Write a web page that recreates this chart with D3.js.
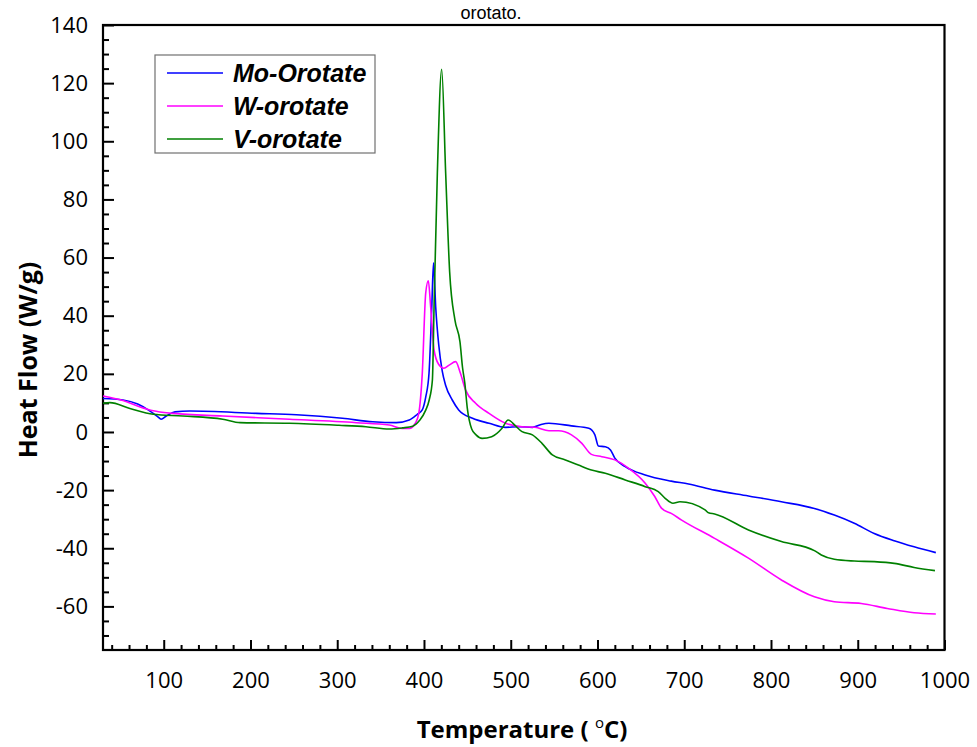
<!DOCTYPE html>
<html>
<head>
<meta charset="utf-8">
<script src="https://cdn.jsdelivr.net/npm/d3@7"></script>
<style>
  html, body { margin: 0; padding: 0; background: #fff; }
  svg { display: block; }
</style>
</head>
<body>
<div id="chart"></div>
<script>
'use strict';

// series: [temperature (°C), heat flow (W/g)]
const moOrotate = [
  [30,11.5],[53,11],[70,9.6],[82,7.6],[93,5.3],[97,4.4],[103,5.5],[113,6.9],[130,7.2],
  [207,6.4],[253,5.9],[306,4.7],[341,3.5],[368,3.2],[383,4.1],[392,6.0],[398,7.6],
  [402,12],[405.8,20.2],[409,43],[411,58.2],[413.5,43],[417,30],[421,21],[425,16],
  [432.6,11],[440,7.6],[456,4.7],[475,3.0],[494,1.6],[509,1.8],[525,1.6],[535,2.6],
  [544,3.0],[570,2.1],[590,1.3],[597,-1.0],[601,-4.8],[609,-5.1],[615,-6.2],[620,-9.0],
  [632,-11.9],[655,-14.8],[685,-16.9],[705,-17.9],[735,-20.0],[774,-22.0],[812,-24.0],
  [850,-26.3],[873,-28.6],[896,-31.4],[919,-34.9],[942,-37.4],[965,-39.5],[990,-41.5]
]

const wOrotate = [
  [30,12.4],[53,10.8],[72,8.7],[88,7.3],[111,6.4],[168,5.5],[245,4.4],[322,3.2],
  [360,2.4],[375,1.2],[383,1.2],[390,3],[394,6.4],[398,20],[402,47.8],[405,52],
  [407.7,43],[411.6,28.2],[417,23.2],[423,21.9],[429,23.0],[436.5,24.2],[442,20.2],
  [448,14.4],[459.5,9.9],[475,6.4],[494,3.0],[513,1.8],[528,1.6],[544,0.4],[555,0.4],
  [570,-1.0],[582,-3.9],[593,-7.7],[605,-8.5],[620,-9.6],[636,-12.5],[655,-17.6],
  [666,-22.2],[674,-26.3],[685,-28.0],[697,-30.3],[735,-36.6],[774,-43.4],[812,-50.9],
  [850,-56.7],[873,-58.4],[904,-59.0],[934,-60.7],[965,-62.2],[990,-62.6]
]

const vOrotate = [
  [30,9.9],[38,10.1],[61,8.1],[88,6.1],[122,5.5],[168,4.4],[188,3.2],[245,3.0],
  [302,2.3],[333,1.8],[360,1.0],[375,1.4],[387,2.0],[395,4],[402,7.5],[406,11],
  [409.7,17.9],[411.6,43],[415.4,89],[420.4,124.8],[425,89],[429.6,55],[435.7,38.5],
  [441.5,31],[444.5,22],[447,17],[450,8],[455,1],[460,-1],[467,-2.2],[478,-1.6],
  [490,1.3],[497,4.1],[505.5,2.1],[513,0.1],[525,-1.0],[536,-3.9],[548,-7.9],[563,-9.6],
  [578,-11.4],[593,-13.1],[609,-14.2],[632,-16.5],[655,-18.8],[670,-20.5],[678,-22.8],
  [687,-24.5],[695,-24.0],[724,-26.8],[728,-27.8],[735,-28.2],[774,-33.7],[812,-37.7],
  [850,-40.8],[858,-42.3],[873,-43.8],[896,-44.4],[919,-44.6],[942,-45.2],[965,-46.6],
  [989,-47.7]
]

const seriesNames = ['Mo-Orotate', 'W-orotate', 'V-orotate']
const xTicks = [100, 200, 300, 400, 500, 600, 700, 800, 900, 1000]
const yTicks = [-60, -40, -20, 0, 20, 40, 60, 80, 100, 120, 140]

const colors = ['#0000ff', '#ff00ff', '#008000']

// dimensions
let dimensions = {
  width: 977,
  height: 747,
  margin: { top: 25, bottom: 97, left: 103, right: 32.5 }
}
dimensions.ctrWidth = dimensions.width - dimensions.margin.left - dimensions.margin.right
dimensions.ctrHeight = dimensions.height - dimensions.margin.top - dimensions.margin.bottom

const svg = d3.select('#chart')
  .append('svg')
  .attr('width', dimensions.width)
  .attr('height', dimensions.height)

// leftover title line above the plot
svg.append('text')
  .attr('x', 491)
  .attr('y', 19)
  .attr('text-anchor', 'middle')
  .style('font-family', '"Liberation Sans", Arial, sans-serif')
  .style('font-size', '18px')
  .text('orotato.')

const chart_g = svg.append('g')
  .attr('transform', `translate(${dimensions.margin.left}, ${dimensions.margin.top})`)

const xScale = d3.scaleLinear()
  .domain([30, 1000])
  .range([0, dimensions.ctrWidth])

const yScale = d3.scaleLinear()
  .domain([-75, 140])
  .range([dimensions.ctrHeight, 0])

// minor ticks
const xMinor = d3.range(40, 1000, 20).filter(d => d % 100 !== 0)
const yMinor = d3.range(-70, 140, 5).filter(d => d % 20 !== 0)

const tickFont = '"Open Sans", sans-serif'
const plain = d => String(d)   // hyphen minus, no thousands comma

// x axis (ticks inward)
const xAxisG = chart_g.append('g')
  .attr('transform', `translate(0, ${dimensions.ctrHeight})`)
xAxisG.append('g')
  .call(d3.axisBottom(xScale).tickValues(xMinor).tickSize(-5).tickFormat(''))
xAxisG.append('g')
  .call(d3.axisBottom(xScale).tickValues(xTicks).tickSize(-10).tickPadding(22).tickFormat(plain))
xAxisG.selectAll('.domain').remove()
xAxisG.selectAll('line').attr('stroke', '#000').attr('stroke-width', 2)
xAxisG.selectAll('text')
  .attr('fill', '#000')
  .style('font-family', tickFont)
  .style('font-size', '22px')

// y axis (ticks inward)
const yAxisG = chart_g.append('g')
yAxisG.append('g')
  .call(d3.axisLeft(yScale).tickValues(yMinor).tickSize(-6).tickFormat(''))
yAxisG.append('g')
  .call(d3.axisLeft(yScale).tickValues(yTicks).tickSize(-11).tickPadding(15).tickFormat(plain))
yAxisG.selectAll('.domain').remove()
yAxisG.selectAll('line').attr('stroke', '#000').attr('stroke-width', 2)
yAxisG.selectAll('text')
  .attr('fill', '#000')
  .style('font-family', tickFont)
  .style('font-size', '22px')

// frame
chart_g.append('rect')
  .attr('x', 0)
  .attr('y', 0)
  .attr('width', dimensions.ctrWidth)
  .attr('height', dimensions.ctrHeight)
  .attr('fill', 'none')
  .attr('stroke', '#000')
  .attr('stroke-width', 2.2)

// lines
const line = d3.line()
  .x(d => xScale(d[0]))
  .y(d => yScale(d[1]))
  .curve(d3.curveMonotoneX)

const allSeries = [moOrotate, wOrotate, vOrotate]
chart_g.append('g')
  .selectAll('path')
  .data(allSeries)
  .join('path')
  .attr('d', d => line(d))
  .attr('fill', 'none')
  .attr('stroke', (d, i) => colors[i])
  .attr('stroke-width', 1.6)
  .attr('stroke-linejoin', 'round')

// legend
const legend = svg.append('g').attr('transform', 'translate(155, 55)')
legend.append('rect')
  .attr('width', 220)
  .attr('height', 98)
  .attr('fill', '#fff')
  .attr('stroke', '#707070')
  .attr('stroke-width', 1.2)

const rows = legend.selectAll('g.row')
  .data(seriesNames)
  .join('g')
  .attr('class', 'row')
  .attr('transform', (d, i) => `translate(0, ${18 + i * 33})`)
rows.append('line')
  .attr('x1', 12)
  .attr('x2', 68)
  .attr('stroke', (d, i) => colors[i])
  .attr('stroke-width', 1.6)
rows.append('text')
  .attr('x', 78)
  .attr('y', 9)
  .style('font-family', '"Liberation Sans", Arial, sans-serif')
  .style('font-size', '25px')
  .style('font-weight', 'bold')
  .style('font-style', 'italic')
  .text(d => d)

// axis titles
svg.append('text')
  .attr('transform', 'translate(37, 360) rotate(-90)')
  .attr('text-anchor', 'middle')
  .style('font-family', '"Open Sans", sans-serif')
  .style('font-size', '25px')
  .style('font-weight', 'bold')
  .text('Heat Flow (W/g)')

const xTitle = svg.append('text')
  .attr('x', 522)
  .attr('y', 738)
  .attr('text-anchor', 'middle')
  .style('font-family', '"Open Sans", sans-serif')
  .style('font-size', '24px')
  .style('font-weight', 'bold')
xTitle.append('tspan').text('Temperature ( ')
xTitle.append('tspan').attr('dy', -10).style('font-size', '15px').style('font-weight', 'normal').text('o')
xTitle.append('tspan').attr('dy', 10).text('C)')
</script>
</body>
</html>
